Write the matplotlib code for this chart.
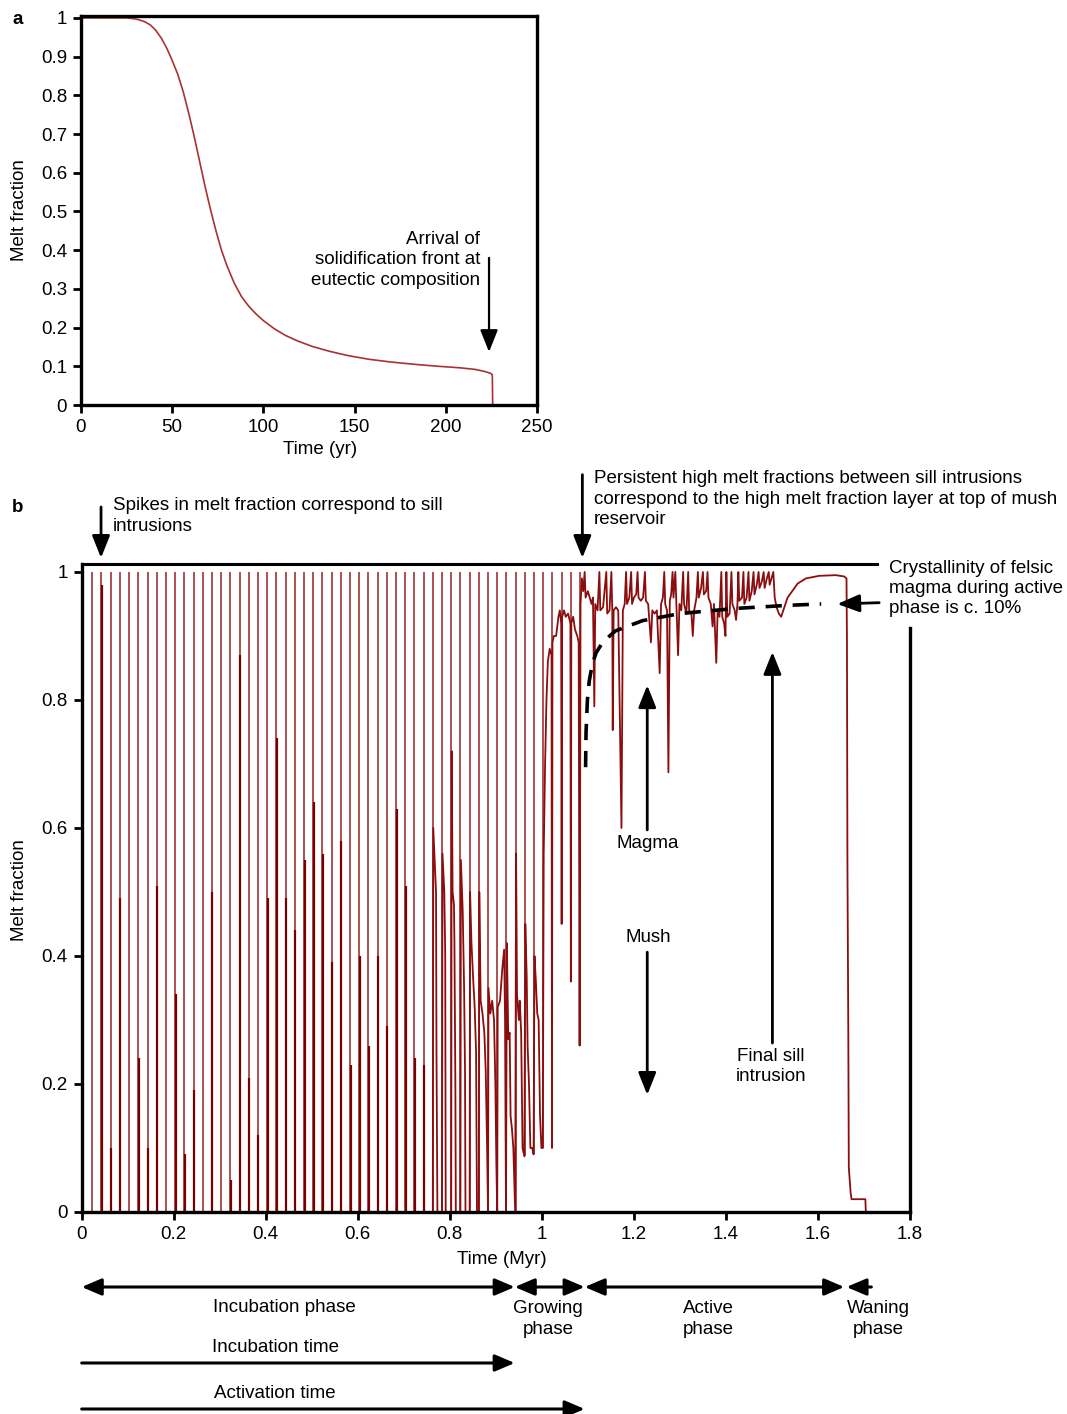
import numpy as np
import matplotlib.pyplot as plt

plt.rcParams['font.family'] = ['Liberation Sans', 'DejaVu Sans']
plt.rcParams['font.size'] = 13.5
FS = 13.5

# ---- panel a : single sill cooling ----
a_time = [0, 25, 29, 32, 35, 38, 41, 44, 47, 50, 53, 56, 59, 62, 65, 68, 71, 74, 77, 80,
          84, 88, 92, 96, 100, 106, 112, 119, 127, 136, 146, 158, 170, 183, 196, 208,
          216, 221, 224.5, 225.5, 225.7]
a_melt = [1.0, 1.0, 0.998, 0.995, 0.99, 0.982, 0.968, 0.948, 0.922, 0.89, 0.855, 0.81,
          0.755, 0.695, 0.63, 0.565, 0.505, 0.45, 0.40, 0.36, 0.315, 0.28, 0.255, 0.235,
          0.218, 0.197, 0.18, 0.165, 0.151, 0.139, 0.128, 0.118, 0.111, 0.105, 0.10,
          0.096, 0.092, 0.087, 0.082, 0.078, 0.0]
a_xticks = [0, 50, 100, 150, 200, 250]
a_yticks = [0, 0.1, 0.2, 0.3, 0.4, 0.5, 0.6, 0.7, 0.8, 0.9, 1]
a_ylabels = ['0', '0.1', '0.2', '0.3', '0.4', '0.5', '0.6', '0.7', '0.8', '0.9', '1']

# ---- panel b : repeated sill intrusions ----
# intrusion times (Myr), lower end of each spike, top of the dark post-spike sample
sill_t = [0.023, 0.043, 0.063, 0.083, 0.103, 0.123, 0.143, 0.163, 0.183, 0.203,
          0.223, 0.243, 0.263, 0.283, 0.303, 0.323, 0.343, 0.363, 0.383, 0.403,
          0.423, 0.443, 0.463, 0.483, 0.503, 0.523, 0.543, 0.563, 0.583, 0.603,
          0.623, 0.643, 0.663, 0.683, 0.703, 0.723, 0.743, 0.763, 0.783, 0.803,
          0.823, 0.843, 0.863, 0.883, 0.903, 0.923, 0.943, 0.963, 0.983, 1.003,
          1.023, 1.043, 1.063, 1.083]
sill_lo = [0, 0, 0, 0, 0, 0, 0, 0, 0, 0,
           0, 0, 0, 0, 0, 0, 0, 0, 0, 0,
           0, 0, 0, 0, 0, 0, 0, 0, 0, 0,
           0, 0, 0, 0, 0, 0, 0, 0, 0, 0,
           0, 0, 0, 0, 0, 0, 0, 0.087, 0.09, 0.10,
           0.10, 0.45, 0.36, 0.26]
sill_drop = [0, 0.98, 0.10, 0.49, 0, 0.24, 0.10, 0.51, 0, 0.34,
             0.09, 0.19, 0, 0.50, 0, 0.05, 0.87, 0.21, 0.12, 0.49,
             0.74, 0.49, 0.44, 0.55, 0.64, 0.56, 0.39, 0.58, 0.23, 0.40,
             0.26, 0.40, 0.29, 0.63, 0.51, 0.24, 0.23, 0, 0, 0,
             0, 0, 0, 0, 0, 0, 0, 0.087, 0.09, 0.10,
             0.10, 0.45, 0.36, 0.26]

# melt fraction between intrusions, growing phase
grow_t = [0.0, 0.763,
          0.764, 0.767, 0.770, 0.771, 0.773, 0.783,
          0.784, 0.788, 0.790, 0.791, 0.803,
          0.804, 0.806, 0.809, 0.810, 0.812, 0.813, 0.823,
          0.824, 0.828, 0.831, 0.833, 0.834, 0.843,
          0.844, 0.847, 0.851, 0.854, 0.857, 0.859, 0.863,
          0.864, 0.867, 0.871, 0.875, 0.878, 0.881, 0.883,
          0.884, 0.888, 0.892, 0.896, 0.899, 0.901, 0.903,
          0.904, 0.909, 0.914, 0.918, 0.920, 0.922,
          0.924, 0.927, 0.930, 0.932, 0.935, 0.938, 0.942,
          0.944, 0.946, 0.950, 0.952, 0.955, 0.958, 0.962,
          0.964, 0.967, 0.969, 0.972, 0.975, 0.979, 0.982,
          0.984, 0.987, 0.990, 0.993, 0.996, 0.999, 1.002,
          1.004, 1.007, 1.010, 1.013, 1.017, 1.021, 1.022, 1.023,
          1.026, 1.031, 1.036, 1.039, 1.042, 1.043, 1.044,
          1.048, 1.052, 1.057, 1.062, 1.063, 1.064,
          1.068, 1.072, 1.077, 1.080, 1.082, 1.084, 1.087]
grow_mf = [0.0, 0.0,
           0.60, 0.55, 0.50, 0.25, 0.0, 0.0,
           0.56, 0.50, 0.40, 0.0, 0.0,
           0.72, 0.50, 0.48, 0.42, 0.20, 0.0, 0.0,
           0.55, 0.47, 0.35, 0.22, 0.0, 0.0,
           0.50, 0.42, 0.36, 0.32, 0.25, 0.0, 0.0,
           0.50, 0.33, 0.31, 0.28, 0.22, 0.10, 0.0,
           0.35, 0.31, 0.33, 0.30, 0.20, 0.08, 0.0,
           0.32, 0.33, 0.38, 0.41, 0.30, 0.0,
           0.42, 0.27, 0.28, 0.15, 0.13, 0.10, 0.0,
           0.56, 0.34, 0.30, 0.33, 0.28, 0.10, 0.087,
           0.45, 0.37, 0.26, 0.20, 0.10, 0.10, 0.09,
           0.40, 0.36, 0.31, 0.30, 0.15, 0.10, 0.10,
           0.56, 0.70, 0.80, 0.86, 0.88, 0.87, 0.10, 0.89,
           0.90, 0.90, 0.93, 0.94, 0.92, 0.45, 0.93,
           0.94, 0.93, 0.935, 0.92, 0.36, 0.92,
           0.93, 0.91, 0.90, 0.89, 0.26, 0.95, 0.99]

# active phase: high melt fraction layer
act_t = [1.090, 1.093, 1.095, 1.100, 1.104, 1.108, 1.111, 1.114, 1.116, 1.121,
         1.125, 1.127, 1.133, 1.140, 1.142, 1.147, 1.151, 1.153, 1.154, 1.156,
         1.161, 1.166, 1.173, 1.176, 1.180, 1.183, 1.185, 1.190, 1.194, 1.196,
         1.200, 1.205, 1.208, 1.210, 1.215, 1.220, 1.224, 1.226, 1.231, 1.237,
         1.240, 1.245, 1.250, 1.256, 1.259, 1.263, 1.266, 1.268, 1.272, 1.275,
         1.278, 1.281, 1.284, 1.286, 1.290, 1.292, 1.296, 1.299, 1.303, 1.307,
         1.309, 1.314, 1.318, 1.320, 1.325, 1.328, 1.331, 1.336, 1.339, 1.341,
         1.346, 1.350, 1.352, 1.357, 1.360, 1.362, 1.367, 1.371, 1.374, 1.379,
         1.382, 1.386, 1.390, 1.392, 1.396, 1.399, 1.401, 1.403, 1.408, 1.412,
         1.414, 1.419, 1.422, 1.425, 1.427, 1.429, 1.435, 1.438, 1.440, 1.445,
         1.449, 1.451, 1.456, 1.460, 1.462, 1.467, 1.471, 1.473, 1.478, 1.482,
         1.484, 1.489, 1.493, 1.495, 1.499, 1.503, 1.506, 1.510, 1.515, 1.520,
         1.527, 1.534, 1.541, 1.556, 1.574, 1.603, 1.639, 1.657]
act_mf = [0.97, 1.0, 0.96, 0.97, 0.96, 0.95, 0.96, 0.79, 0.95, 0.94,
          1.0, 0.94, 0.945, 1.0, 0.935, 0.94, 1.0, 0.94, 0.753, 0.94,
          0.945, 0.94, 0.60, 0.94, 0.95, 1.0, 0.95, 0.96, 1.0, 0.95,
          0.96, 0.965, 1.0, 0.96, 0.955, 0.96, 1.0, 0.955, 0.95, 0.89,
          0.94, 0.935, 0.94, 0.842, 0.95, 0.96, 1.0, 0.95, 0.94, 0.687,
          0.955, 0.965, 1.0, 0.96, 1.0, 0.955, 0.87, 0.95, 0.94, 1.0,
          0.95, 0.935, 1.0, 0.94, 0.935, 0.90, 0.94, 0.96, 1.0, 0.96,
          0.975, 1.0, 0.965, 0.97, 1.0, 0.96, 0.95, 0.915, 0.95, 0.858,
          0.94, 0.93, 1.0, 0.93, 0.92, 0.90, 1.0, 0.93, 0.935, 1.0,
          0.95, 0.94, 0.925, 0.95, 1.0, 0.955, 0.96, 1.0, 0.95, 0.96,
          1.0, 0.955, 0.97, 1.0, 0.965, 0.98, 1.0, 0.975, 0.985, 1.0,
          0.975, 0.99, 1.0, 0.98, 0.99, 1.0, 0.96, 0.945, 0.935, 0.93,
          0.945, 0.96, 0.967, 0.982, 0.99, 0.994, 0.995, 0.993]

# waning phase
wane_t = [1.662, 1.663, 1.664, 1.666, 1.667, 1.671, 1.673, 1.703, 1.704]
wane_mf = [0.99, 0.89, 0.55, 0.27, 0.07, 0.03, 0.02, 0.02, 0.0]

# crystallinity guide (dashed)
dash_t = [1.095, 1.096, 1.099, 1.103, 1.110, 1.118, 1.133, 1.160, 1.219, 1.300,
          1.420, 1.538, 1.607]
dash_mf = [0.695, 0.75, 0.80, 0.83, 0.857, 0.874, 0.891, 0.908, 0.924, 0.935,
           0.943, 0.948, 0.950]

b_xticks = [0, 0.2, 0.4, 0.6, 0.8, 1, 1.2, 1.4, 1.6, 1.8]
b_xlabels = ['0', '0.2', '0.4', '0.6', '0.8', '1', '1.2', '1.4', '1.6', '1.8']
b_yticks = [0, 0.2, 0.4, 0.6, 0.8, 1]
b_ylabels = ['0', '0.2', '0.4', '0.6', '0.8', '1']

# phase boundaries (Myr)
t_start, t_incub, t_activ, t_active_end, t_wane_end = 0.0, 0.941, 1.093, 1.657, 1.716

W, H = 1067, 1414
RED = '#8b0d0d'


def box(x0, y0, x1, y1):
    return [x0 / W, 1 - y1 / H, (x1 - x0) / W, (y1 - y0) / H]


def fy(py):
    return 1 - py / H


fig = plt.figure(figsize=(W / 100, H / 100), dpi=100)

# ---------------- panel a ----------------
ax_a = fig.add_axes(box(81, 16, 537, 405))
ax_a.plot(a_time, a_melt, color='#a83232', lw=1.2)
ax_a.set_xlim(0, 250)
ax_a.set_ylim(0, 1.005)
ax_a.set_xticks(a_xticks)
ax_a.set_yticks(a_yticks)
ax_a.set_yticklabels(a_ylabels)
ax_a.tick_params(direction='out', length=6, width=2, labelsize=FS, pad=4)
for s in ax_a.spines.values():
    s.set_linewidth(2.4)
ax_a.annotate('', xy=(223.7, 0.137), xytext=(223.7, 0.38),
              arrowprops=dict(arrowstyle='-|>,head_length=0.75,head_width=0.3',
                              mutation_scale=18, lw=1.6, color='k',
                              shrinkA=0, shrinkB=0))
fig.text(480 / W, fy(260), 'Arrival of\nsolidification front at\neutectic composition',
         ha='right', va='center', multialignment='right', fontsize=FS, linespacing=1.25)
fig.text(320 / W, fy(450), 'Time (yr)', ha='center', va='center', fontsize=FS)
fig.text(20 / W, fy(210), 'Melt fraction', rotation=90, ha='center', va='center', fontsize=FS)
fig.text(18 / W, fy(20), 'a', fontweight='bold', ha='center', va='center', fontsize=FS)

# ---------------- panel b ----------------
ax_b = fig.add_axes(box(81.7, 564.3, 910, 1212))
ax_b.set_xlim(0, 1.8)
ax_b.set_ylim(0, 1.012)

ax_b.vlines(sill_t, sill_lo, 1.0, colors=RED, lw=1.3, alpha=0.78)
dark_t = [t + 0.0012 for t, lo, d in zip(sill_t, sill_lo, sill_drop) if d > lo]
dark_lo = [lo for t, lo, d in zip(sill_t, sill_lo, sill_drop) if d > lo]
dark_hi = [d for t, lo, d in zip(sill_t, sill_lo, sill_drop) if d > lo]
ax_b.vlines(dark_t, dark_lo, dark_hi, colors='#7a0000', lw=1.6)

trace_t = grow_t + act_t + wane_t
trace_mf = grow_mf + act_mf + wane_mf
ax_b.plot(trace_t, trace_mf, color=RED, lw=1.3, clip_on=False)

ax_b.plot(dash_t, dash_mf, color='k', lw=2.6, ls=(0, (4.5, 3)), clip_on=False)

ax_b.set_xticks(b_xticks)
ax_b.set_xticklabels(b_xlabels)
ax_b.set_yticks(b_yticks)
ax_b.set_yticklabels(b_ylabels)
ax_b.tick_params(direction='out', length=6, width=2, labelsize=FS, pad=4)
ax_b.spines['top'].set_visible(False)
ax_b.spines['right'].set_bounds(0, 0.9125)
for s in ax_b.spines.values():
    s.set_linewidth(2.4)
ax_b.plot([0, 1.729], [1.012, 1.012], color='k', lw=2.2, clip_on=False)

arrow_kw = dict(arrowstyle='-|>,head_length=0.75,head_width=0.3', mutation_scale=18,
                lw=2.0, color='k', shrinkA=0, shrinkB=0)
for (xt, yt), (xs, ys) in [((0.042, 1.022), (0.042, 1.1016)),
                           ((1.088, 1.022), (1.088, 1.152)),
                           ((1.642, 0.950), (1.733, 0.952)),
                           ((1.229, 0.823), (1.229, 0.597)),
                           ((1.229, 0.183), (1.229, 0.406)),
                           ((1.501, 0.875), (1.501, 0.264))]:
    ax_b.annotate('', xy=(xt, yt), xytext=(xs, ys), arrowprops=arrow_kw,
                  annotation_clip=False)

fig.text(113 / W, fy(516), 'Spikes in melt fraction correspond to sill\nintrusions',
         ha='left', va='center', fontsize=FS, linespacing=1.25)
fig.text(594 / W, fy(499), 'Persistent high melt fractions between sill intrusions\n'
         'correspond to the high melt fraction layer at top of mush\nreservoir',
         ha='left', va='center', fontsize=FS, linespacing=1.25)
fig.text(889 / W, fy(588.5), 'Crystallinity of felsic\nmagma during active\nphase is c. 10%',
         ha='left', va='center', fontsize=FS, linespacing=1.25)
fig.text(648 / W, fy(843), 'Magma', ha='center', va='center', fontsize=FS)
fig.text(648 / W, fy(938), 'Mush', ha='center', va='center', fontsize=FS)
fig.text(771 / W, fy(1066.5), 'Final sill\nintrusion', ha='center', va='center',
         fontsize=FS, linespacing=1.25)
fig.text(502 / W, fy(1259), 'Time (Myr)', ha='center', va='center', fontsize=FS)
fig.text(20 / W, fy(890), 'Melt fraction', rotation=90, ha='center', va='center', fontsize=FS)
fig.text(18 / W, fy(507), 'b', fontweight='bold', ha='center', va='center', fontsize=FS)

# ---------------- phase arrows below panel b ----------------
style = ',head_length=0.75,head_width=0.32'
both = dict(arrowstyle='<|-|>' + style, mutation_scale=16, lw=2.2, color='k',
            shrinkA=0, shrinkB=0)
one = dict(arrowstyle='-|>' + style, mutation_scale=16, lw=2.2, color='k',
           shrinkA=0, shrinkB=0)
left = dict(arrowstyle='<|-' + style, mutation_scale=16, lw=2.2, color='k',
            shrinkA=0, shrinkB=0)
row = fy(1287)
coords = ('data', 'figure fraction')
for a0, a1, kw in [(t_start, t_incub, both), (t_incub, t_activ, both),
                   (t_activ, t_active_end, both), (t_active_end + 0.005, t_wane_end, left)]:
    ax_b.annotate('', xy=(a1, row), xytext=(a0, row), xycoords=coords,
                  textcoords=coords, arrowprops=kw, annotation_clip=False)
ax_b.annotate('', xy=(t_incub, fy(1363)), xytext=(t_start, fy(1363)), xycoords=coords,
              textcoords=coords, arrowprops=one, annotation_clip=False)
ax_b.annotate('', xy=(t_activ, fy(1409)), xytext=(t_start, fy(1409)), xycoords=coords,
              textcoords=coords, arrowprops=one, annotation_clip=False)

fig.text(284 / W, fy(1308), 'Incubation phase', ha='center', va='center', fontsize=FS)
fig.text(548 / W, fy(1319), 'Growing\nphase', ha='center', va='center', fontsize=FS,
         linespacing=1.3)
fig.text(708 / W, fy(1319), 'Active\nphase', ha='center', va='center', fontsize=FS,
         linespacing=1.3)
fig.text(878 / W, fy(1319), 'Waning\nphase', ha='center', va='center', fontsize=FS,
         linespacing=1.3)
fig.text(276 / W, fy(1347), 'Incubation time', ha='center', va='center', fontsize=FS)
fig.text(275 / W, fy(1394), 'Activation time', ha='center', va='center', fontsize=FS)

fig.savefig('out.png', dpi=100)
